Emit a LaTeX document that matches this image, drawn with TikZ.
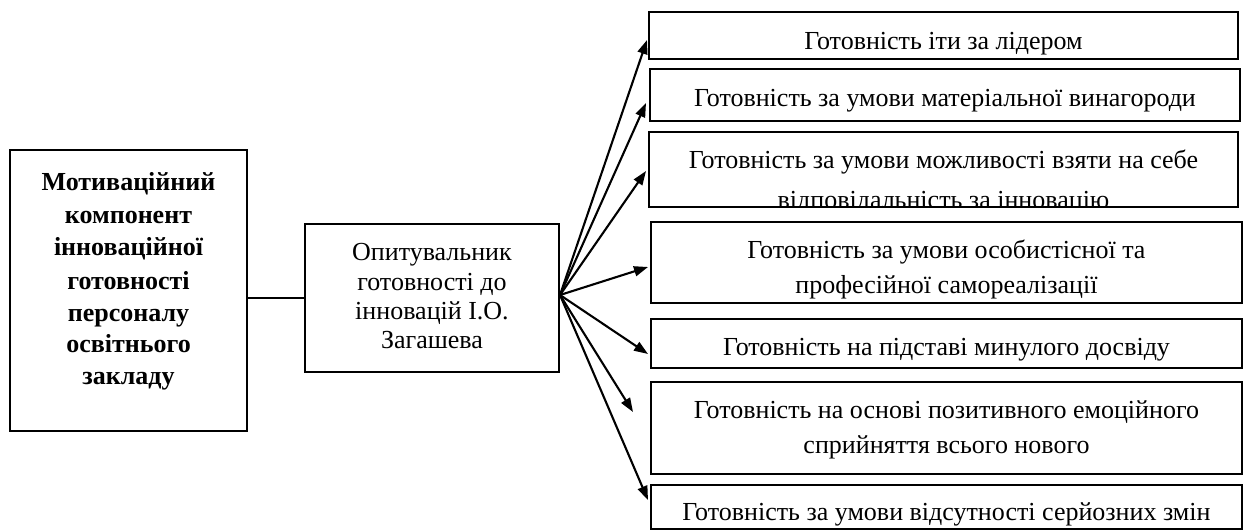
\documentclass[tikz,border=0pt]{standalone}
\usepackage{fontspec}
\setmainfont{Liberation Serif}
\usetikzlibrary{arrows.meta}
\begin{document}
\begin{tikzpicture}[x=1pt,y=-1pt,
  boxn/.style={draw, line width=2pt, inner sep=0pt, rectangle},
  txt/.style={anchor=base, inner sep=0pt, font=\fontsize{26}{30}\selectfont},
  btxt/.style={anchor=base, inner sep=0pt, font=\fontsize{26}{30}\selectfont\bfseries},
  arr/.style={line width=2.1pt, -{Triangle[length=14pt,width=10pt]}},
  link/.style={line width=1.6pt},
]
\useasboundingbox (0,0) rectangle (1245,532);

% boxes
\node[boxn, minimum width=237pt, minimum height=281pt] (lb) at (128.5,290.5) {};
\node[boxn, minimum width=254pt, minimum height=148pt] (mid) at (432,298) {};
\node[boxn, minimum width=589pt, minimum height=47pt] (b1) at (943.5,35.5) {};
\node[boxn, minimum width=590pt, minimum height=52pt] (b2) at (945,95) {};
\node[boxn, minimum width=589pt, minimum height=75pt] (b3) at (943.5,169.5) {};
\node[boxn, minimum width=591pt, minimum height=81pt] (b4) at (946.5,262.5) {};
\node[boxn, minimum width=591pt, minimum height=49pt] (b5) at (946.5,343.5) {};
\node[boxn, minimum width=591pt, minimum height=92pt] (b6) at (946.5,428) {};
\node[boxn, minimum width=591pt, minimum height=44pt] (b7) at (946.5,507) {};

% left box text
\node[btxt] (l1) at (128.5,190) {Мотиваційний};
\node[btxt] (l2) at (128.5,223) {компонент};
\node[btxt] (l3) at (128.5,255) {інноваційної};
\node[btxt] (l4) at (128.5,289) {готовності};
\node[btxt] (l5) at (128.5,321) {персоналу};
\node[btxt] (l6) at (128.5,352) {освітнього};
\node[btxt] (l7) at (128.5,384) {закладу};

% middle box text
\node[txt] (m1) at (432,260) {Опитувальник};
\node[txt] (m2) at (432,290) {готовності до};
\node[txt] (m3) at (432,319) {інновацій І.О.};
\node[txt] (m4) at (432,348) {Загашева};

% right boxes text
\node[txt] (r1) at (943.5,50) {Готовність іти за лідером};
\node[txt] (r2) at (945,107) {Готовність за умови матеріальної винагороди};
\begin{scope}
  \clip ([shift={(1pt,-1pt)}]b3.north west) rectangle ([shift={(-1pt,1pt)}]b3.south east);
  \node[txt] (r3a) at (943.5,168) {Готовність за умови можливості взяти на себе};
  \node[txt] (r3b) at (943.5,208) {відповідальність за інновацію};
\end{scope}
\node[txt] (r4a) at (946.5,258) {Готовність за умови особистісної та};
\node[txt] (r4b) at (946.5,293) {професійної самореалізації};
\node[txt] (r5) at (946.5,355) {Готовність на підставі минулого досвіду};
\node[txt] (r6a) at (946.5,418) {Готовність на основі позитивного емоційного};
\node[txt] (r6b) at (946.5,453) {сприйняття всього нового};
\node[txt] (r7) at (946.5,520) {Готовність за умови відсутності серйозних змін};

% connectors
\draw[link] (lb.east |- mid.west) -- (mid.west);
\coordinate (hub) at ([yshift=3pt]mid.east);
\coordinate (t1) at (647,40);
\coordinate (t2) at (646,103);
\coordinate (t3) at (646,171);
\coordinate (t4) at (648,267);
\coordinate (t5) at (648,354);
\coordinate (t6) at (633,412);
\coordinate (t7) at (648,500);
\foreach \t in {t1,t2,t3,t4,t5,t6,t7}
  \draw[arr] (hub) -- (\t);
\end{tikzpicture}
\end{document}
